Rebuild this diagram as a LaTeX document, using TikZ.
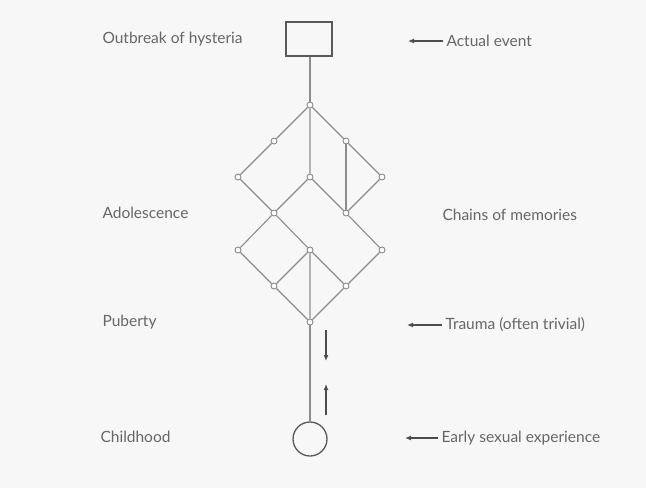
\documentclass[tikz,border=0pt]{standalone}
\usepackage{fontspec}
\setmainfont{Lato}
\usepackage{tikz}
\usetikzlibrary{positioning,arrows.meta}

\begin{document}
\begin{tikzpicture}[x=1pt,y=-1pt,
    link/.style={draw=black!45, line width=1.1pt},
    memory/.style={draw=black!45, circle, fill=white, line width=0.9pt, inner sep=0pt, minimum size=6pt},
    stage/.style={anchor=west, text=black!60, font=\fontsize{15.5}{18}\selectfont},
    pointer/.style={-{Latex[length=6pt,width=5pt]}, draw=black!70, line width=1.2pt}]
  % Frame: same size as the scan
  \useasboundingbox[fill=black!3] (0,0) rectangle (646,488);

  % Actual event at the top, early experience at the bottom
  \node (outbreak) [draw=black!65, line width=1.3pt, minimum width=46pt, minimum height=34pt] at (309,39) {};
  \node (early) [draw=black!65, circle, line width=1.3pt, minimum size=34pt] at (310,439) {};

  % Chains of memories: the lattice of small circles
  \node (top)   [memory] at (310,105) {};
  \node (left1) [memory] at (274,141) {};
  \node (right1)[memory] at (346,141) {};
  \node (farl)  [memory] at (238,177) {};
  \node (mid)   [memory] at (310,177) {};
  \node (farr)  [memory] at (382,177) {};
  \node (lowl)  [memory] at (274,213) {};
  \node (lowr)  [memory] at (346,213) {};
  \node (farl2) [memory] at (238,250) {};
  \node (mid2)  [memory] at (310,250) {};
  \node (farr2) [memory] at (382,250) {};
  \node (lowl2) [memory] at (274,286) {};
  \node (lowr2) [memory] at (346,286) {};
  \node (trauma)[memory] at (310,322) {};

  \draw[link] (outbreak.south -| top) -- (top);
  \draw[link] (top) -- (left1) -- (farl) -- (lowl) -- (mid) -- (top);
  \draw[link] (top) -- (right1) -- (farr) -- (lowr) -- (mid);
  \draw[link] (right1) -- (lowr);
  \draw[link] (lowl) -- (farl2) -- (lowl2) -- (trauma) -- (lowr2) -- (farr2) -- (lowr);
  \draw[link] (lowl) -- (mid2) -- (lowr2);
  \draw[link] (lowl2) -- (mid2) -- (trauma);
  \draw[link] (trauma) -- (early);

  % Small arrows beside the stem
  \coordinate (down1) at (326,330);
  \coordinate (down2) at (326,361);
  \coordinate (up1)   at (326,415);
  \coordinate (up2)   at (326,384);
  \draw[pointer] (down1) -- (down2);
  \draw[pointer] (up1) -- (up2);

  % Stages on the left
  \node (hysteria) [stage] at (99,39)  {Outbreak of hysteria};
  \node (adol)     [stage] at (99,213) {Adolescence};
  \node (puberty)  [stage] at (99,322) {Puberty};
  \node (child)    [stage] at (97,437) {Childhood};

  % Notes on the right
  \node (actual) [stage] at (443,41)  {Actual event};
  \node (chains) [stage] at (439,215) {Chains of memories};
  \node (triv)   [stage] at (442,325) {Trauma (often trivial)};
  \node (sexual) [stage] at (438,438) {Early sexual experience};
  \coordinate (actualtip) at (408,41);
  \coordinate (trivtip)   at (407,325);
  \coordinate (sexualtip) at (405,438);
  \draw[pointer] (actual.west) -- (actualtip);
  \draw[pointer] (triv.west) -- (trivtip);
  \draw[pointer] (sexual.west) -- (sexualtip);
\end{tikzpicture}
\end{document}
